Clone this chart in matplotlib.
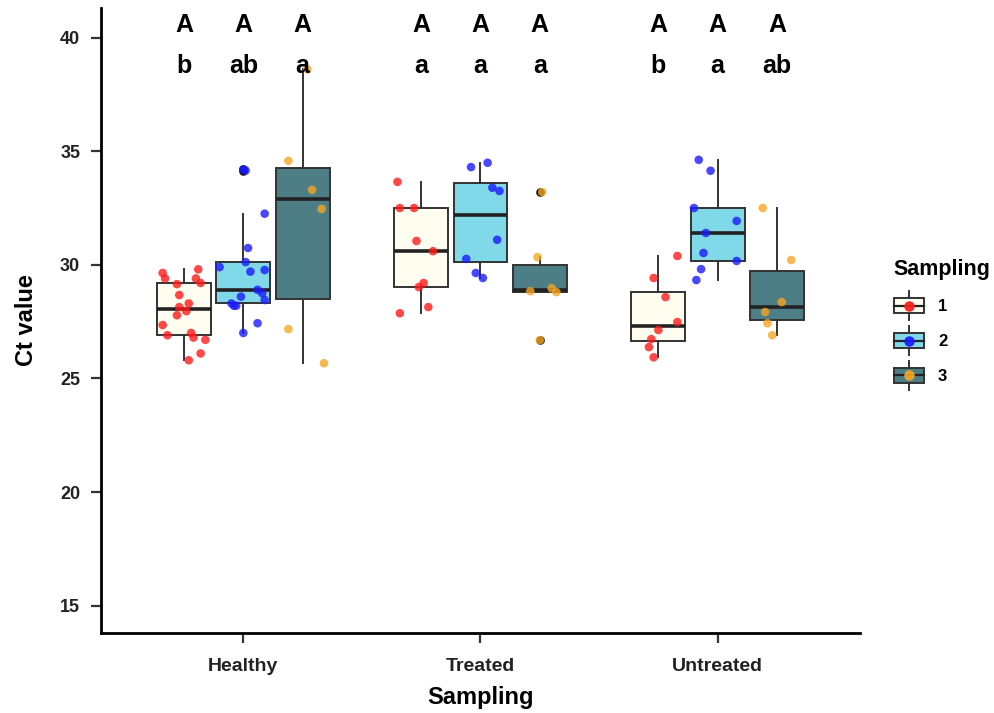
import matplotlib
matplotlib.use("Agg")
import matplotlib.pyplot as plt
from matplotlib.legend_handler import HandlerBase
from matplotlib.patches import Rectangle, Patch
from matplotlib.lines import Line2D

plt.rcParams['font.family'] = ['Liberation Sans', 'DejaVu Sans']

# categories and sampling levels
groups = ["Healthy", "Treated", "Untreated"]
samplings = ["1", "2", "3"]

# Ct values (per group, per sampling)
healthy_s1 = [29.64, 29.4, 29.8, 29.4, 29.2, 29.15, 28.67, 28.14, 28.3, 27.96,
              27.78, 27.35, 26.9, 27.0, 26.8, 26.7, 26.1, 25.8]
healthy_s2 = [34.2, 34.15, 32.25, 30.74, 30.12, 29.9, 29.7, 29.77, 28.9, 28.75,
              28.45, 28.6, 28.3, 28.2, 28.2, 27.43, 27.0]
healthy_s3 = [38.6, 34.58, 33.3, 32.46, 27.17, 25.67]
treated_s1 = [33.65, 32.5, 32.5, 31.05, 30.6, 29.02, 29.2, 28.14, 27.87]
treated_s2 = [34.3, 34.49, 33.39, 33.25, 31.1, 30.26, 29.64, 29.42]
treated_s3 = [33.2, 30.34, 28.84, 28.97, 28.8, 26.68]
untreated_s1 = [30.39, 29.42, 28.58, 27.48, 27.13, 26.73, 26.38, 25.93]
untreated_s2 = [34.62, 34.14, 32.5, 31.93, 31.4, 30.52, 30.17, 29.81, 29.33]
untreated_s3 = [32.5, 30.21, 28.36, 27.92, 27.43, 26.9]

# horizontal jitter of each point as seen in the chart
healthy_j1 = [-0.09, -0.08, 0.06, 0.05, 0.07, -0.03, -0.02, -0.02, 0.02, 0.01,
              -0.03, -0.09, -0.07, 0.03, 0.04, 0.09, 0.07, 0.02]
healthy_j2 = [0.00, 0.01, 0.09, 0.02, 0.01, -0.10, 0.03, 0.09, 0.06, 0.08,
              0.09, -0.01, -0.05, -0.04, -0.03, 0.06, 0.00]
healthy_j3 = [0.02, -0.06, 0.04, 0.08, -0.06, 0.09]
treated_j1 = [-0.10, -0.09, -0.03, -0.02, 0.05, -0.01, 0.01, 0.03, -0.09]
treated_j2 = [-0.04, 0.03, 0.05, 0.08, 0.07, -0.06, -0.02, 0.01]
treated_j3 = [0.01, -0.01, -0.04, 0.05, 0.07, 0.00]
untreated_j1 = [0.08, -0.02, 0.03, 0.08, 0.00, -0.03, -0.04, -0.02]
untreated_j2 = [-0.08, -0.03, -0.10, 0.08, -0.05, -0.06, 0.08, -0.07, -0.09]
untreated_j3 = [-0.06, 0.06, 0.02, -0.05, -0.04, -0.02]

# significance letters
upper_letters = [["A", "A", "A"], ["A", "A", "A"], ["A", "A", "A"]]
lower_letters = [["b", "ab", "a"], ["a", "a", "a"], ["b", "a", "ab"]]

values = [[healthy_s1, healthy_s2, healthy_s3],
          [treated_s1, treated_s2, treated_s3],
          [untreated_s1, untreated_s2, untreated_s3]]
jitters = [[healthy_j1, healthy_j2, healthy_j3],
           [treated_j1, treated_j2, treated_j3],
           [untreated_j1, untreated_j2, untreated_j3]]

box_fill = ["#FFFDF0", "#80D9E8", "#4E7E85"]
dot_color = ["#FF1A1A", "#1A1AFF", "#F5A623"]
edge = "#333333"
dodge = 0.25
box_w = 0.227

fig = plt.figure(figsize=(9.94, 7.13), dpi=100)
ax = fig.add_axes([101 / 994, 1 - 633 / 713, 759 / 994, 625 / 713])

for g in range(len(groups)):
    for s in range(len(samplings)):
        xc = g + 1 + (s - 1) * dodge
        ax.boxplot(values[g][s], positions=[xc], widths=box_w, patch_artist=True,
                   boxprops=dict(facecolor=box_fill[s], edgecolor=edge, linewidth=1.4),
                   medianprops=dict(color="#222222", linewidth=2.6),
                   whiskerprops=dict(color=edge, linewidth=1.4),
                   capprops=dict(linewidth=0),
                   flierprops=dict(marker="o", markerfacecolor="#111111",
                                   markeredgecolor="none", markersize=6.2),
                   showcaps=False, manage_ticks=False, zorder=2)
        xs = [xc + j for j in jitters[g][s]]
        ax.scatter(xs, values[g][s], s=38, color=dot_color[s], alpha=0.8,
                   edgecolors="none", zorder=3)
        ax.text(xc, 40.25, upper_letters[g][s], ha="center", va="baseline",
                fontsize=18, fontweight="bold")
        ax.text(xc, 38.45, lower_letters[g][s], ha="center", va="baseline",
                fontsize=18, fontweight="bold")

ax.set_xlim(0.4, 3.6)
ax.set_ylim(13.8, 41.3)
ax.set_xticks([1, 2, 3])
ax.set_xticklabels(groups, fontsize=14, fontweight="bold")
ax.set_yticks([15, 20, 25, 30, 35, 40])
ax.tick_params(axis="y", labelsize=13, width=1.6, length=7, pad=8,
               colors="#333333", labelcolor="#222222")
ax.tick_params(axis="x", width=1.6, length=7, pad=11,
               colors="#333333", labelcolor="#222222")
for lab in ax.get_yticklabels():
    lab.set_fontweight("bold")
ax.spines["top"].set_visible(False)
ax.spines["right"].set_visible(False)
ax.spines["left"].set_linewidth(2)
ax.spines["bottom"].set_linewidth(2)
ax.set_xlabel("Sampling", fontsize=17, fontweight="bold", labelpad=8)
ax.set_ylabel("Ct value", fontsize=17, fontweight="bold", labelpad=16)


class BoxKey(HandlerBase):
    def __init__(self, fill, dot):
        super().__init__()
        self.fill = fill
        self.dot = dot

    def create_artists(self, legend, orig_handle, xdescent, ydescent,
                       width, height, fontsize, trans):
        x0, y0 = -xdescent, -ydescent
        bw, bh = width * 0.95, height * 0.8
        bx = x0 + (width - bw) / 2
        by = y0 + (height - bh) / 2
        cx = x0 + width / 2
        cy = y0 + height / 2
        arts = [
            Line2D([cx, cx], [y0 - height * 0.3, y0 + height * 1.3],
                   color=edge, lw=1.4, transform=trans),
            Rectangle((bx, by), bw, bh, facecolor=self.fill, edgecolor=edge,
                      lw=1.4, transform=trans),
            Line2D([bx, bx + bw], [cy, cy], color="#222222", lw=1.6, transform=trans),
            Line2D([cx], [cy], marker="o", color=self.dot, markersize=6.5,
                   alpha=0.9, transform=trans),
        ]
        return arts


handles = [Patch() for _ in samplings]
hmap = {h: BoxKey(box_fill[i], dot_color[i]) for i, h in enumerate(handles)}
leg = fig.legend(handles, samplings, handler_map=hmap, loc="upper left",
                 bbox_to_anchor=(878 / 994, 1 - 244 / 713), frameon=False,
                 title="Sampling", title_fontproperties={"size": 15.5, "weight": "bold"},
                 prop={"size": 12, "weight": "bold"}, handlelength=1.9,
                 handleheight=1.3, labelspacing=1.0, handletextpad=0.8,
                 alignment="left")

fig.savefig("out.png", dpi=100)
